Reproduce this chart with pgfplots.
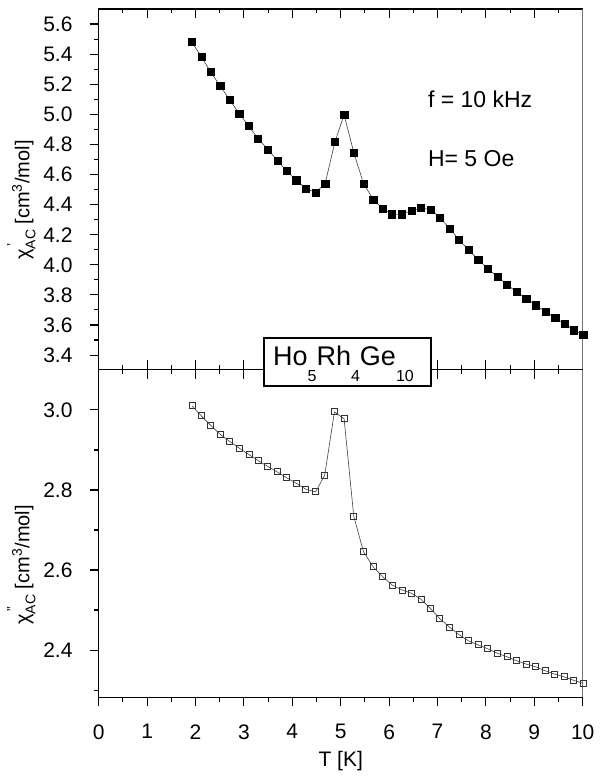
\documentclass[border=0pt]{standalone}
\usepackage{fontspec}
\setmainfont{Liberation Sans}
\usepackage{pgfplots}
\usepackage{pgfplotstable}
\pgfplotsset{compat=1.18}

% real part chi' (T in K, cm^3/mol)
\pgfplotstableread{
T chi
1.92 5.482
2.12 5.383
2.31 5.283
2.51 5.188
2.71 5.095
2.90 5.006
3.10 4.922
3.29 4.840
3.49 4.767
3.69 4.694
3.88 4.624
4.08 4.562
4.28 4.508
4.48 4.479
4.68 4.541
4.88 4.816
5.07 4.997
5.27 4.747
5.47 4.541
5.67 4.435
5.87 4.372
6.06 4.337
6.26 4.337
6.46 4.359
6.66 4.377
6.86 4.366
7.05 4.313
7.25 4.242
7.44 4.169
7.64 4.098
7.84 4.036
8.04 3.974
8.24 3.920
8.43 3.870
8.63 3.821
8.83 3.777
9.03 3.732
9.23 3.688
9.43 3.648
9.62 3.608
9.82 3.566
10.01 3.533
}\chireal

% imaginary part chi''
\pgfplotstableread{
T chi
1.93 3.010
2.12 2.985
2.31 2.962
2.51 2.939
2.71 2.921
2.91 2.904
3.11 2.888
3.30 2.873
3.49 2.859
3.69 2.845
3.89 2.830
4.08 2.817
4.28 2.802
4.48 2.795
4.67 2.837
4.87 2.995
5.07 2.978
5.27 2.734
5.47 2.646
5.67 2.608
5.87 2.583
6.07 2.562
6.27 2.550
6.46 2.542
6.66 2.527
6.86 2.503
7.05 2.478
7.25 2.457
7.45 2.438
7.64 2.423
7.84 2.413
8.04 2.403
8.24 2.392
8.44 2.383
8.64 2.373
8.83 2.365
9.03 2.358
9.23 2.348
9.42 2.340
9.62 2.333
9.82 2.324
10.01 2.317
}\chiimag

\pgfplotsset{
  base/.style={
    scale only axis, width=484pt, xmin=0, xmax=10, clip=false,
    axis line style={line width=1.1pt, black},
    tick style={line width=1.1pt, black},
    major tick length=9pt, minor tick length=4.5pt,
    /pgf/number format/assume math mode=true,
    tick label style={font=\fontsize{21}{25}\selectfont},
  },
  toppanel/.style={base, height=360.5pt, ymin=3.304, ymax=5.700,
    at={(0pt,327.8pt)}, anchor=south west},
  botpanel/.style={base, height=327.8pt, ymin=2.282, ymax=3.101,
    at={(0pt,0pt)}, anchor=south west},
  xinner/.style={axis line style={draw=none}, ytick=\empty,
    xtick={0,...,10}, minor xtick={0.5,1.5,...,9.5},
    xticklabels={}, tick align=inside},
  mainy/.style={tick align=outside, ytick pos=left,
    yticklabel style={inner sep=0pt, xshift=-17pt,
      /pgf/number format/.cd, fixed, fixed zerofill, precision=1}},
}

\newcommand{\chilabel}[1]{χ\rlap{\raisebox{0.62em}{\fontsize{14}{14}\selectfont\,#1}}\raisebox{-0.3em}{\fontsize{14}{14}\selectfont AC} [cm\textsuperscript{3}/mol]}
\newcommand{\sub}[1]{\raisebox{-16pt}{\fontsize{16}{16}\selectfont #1}}

\begin{document}
\begin{tikzpicture}
\useasboundingbox (-98.7pt,-78.7pt) rectangle (508.3pt,697.3pt);

% lower panel: inward ticks on the shared edge
\begin{axis}[botpanel, xinner, xtick pos=right]
\end{axis}

% lower panel: chi''
\begin{axis}[botpanel, mainy,
    ytick={2.4,2.6,2.8,3.0}, minor ytick={2.3,2.5,2.7,2.9},
    xtick={0,...,10}, minor xtick={0.5,1.5,...,9.5}, xtick pos=left,
    xticklabel style={inner sep=0pt, yshift=-18pt},
    xlabel={T [K]},
    xlabel style={at={(axis description cs:0.5,-0.195)}, anchor=center,
      font=\fontsize{21}{25}\selectfont},
    ylabel={\chilabel{''}},
    ylabel style={at={(axis description cs:-0.1233,0.404)}, anchor=south,
      font=\fontsize{20}{24}\selectfont},
  ]
  \draw[white, line width=1.6pt] (rel axis cs:1,0) -- (rel axis cs:1,1);
  \draw[black!55, line width=0.9pt] (rel axis cs:1,0) -- (rel axis cs:1,1);
  \addplot[black!75, line width=0.6pt, mark=square, mark size=3.0pt,
    mark options={solid, draw=black!80, fill=white, line width=1pt}]
    table[x=T, y=chi] {\chiimag};
\end{axis}

% upper panel: inward x ticks top and bottom
\begin{axis}[toppanel, xinner, xtick pos=both]
\end{axis}

% upper panel: chi'
\begin{axis}[toppanel, mainy, xtick=\empty,
    ytick={3.4,3.6,3.8,4.0,4.2,4.4,4.6,4.8,5.0,5.2,5.4,5.6},
    minor ytick={3.3,3.5,3.7,3.9,4.1,4.3,4.5,4.7,4.9,5.1,5.3,5.5},
    ylabel={\chilabel{'}},
    ylabel style={at={(axis description cs:-0.1233,0.47)}, anchor=south,
      font=\fontsize{20}{24}\selectfont},
  ]
  \draw[white, line width=1.6pt] (rel axis cs:1,0) -- (rel axis cs:1,1);
  \draw[black!55, line width=0.9pt] (rel axis cs:1,0) -- (rel axis cs:1,1);
  \addplot[black!75, line width=0.6pt, mark=square*, mark size=3.6pt,
    mark options={solid, draw=black, fill=black, line width=0.3pt}]
    table[x=T, y=chi] {\chireal};
  \node[anchor=west, inner sep=0pt, font=\fontsize{23}{27}\selectfont]
    at (rel axis cs:0.680,0.750) {f = 10 kHz};
  \node[anchor=west, inner sep=0pt, font=\fontsize{23}{27}\selectfont]
    at (rel axis cs:0.680,0.586) {H= 5 Oe};
\end{axis}

% compound name on the shared edge
\begin{axis}[toppanel, hide axis]
  \node[draw, fill=white, line width=1.1pt, inner sep=0pt,
    minimum width=167pt, minimum height=48pt,
    text height=24pt, text depth=17pt,
    font=\fontsize{27}{31}\selectfont]
    at (rel axis cs:0.514,0.0208) {Ho\sub{5}Rh\sub{4}Ge\sub{10}\hspace*{8pt}};
\end{axis}
\end{tikzpicture}
\end{document}
